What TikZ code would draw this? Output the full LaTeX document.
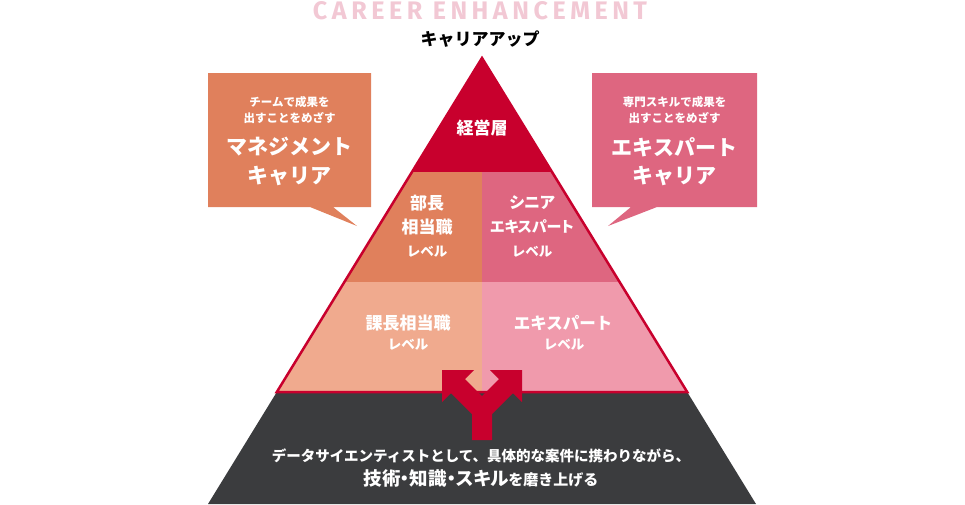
\documentclass[tikz,border=0pt]{standalone}
\usepackage{fontspec}
\newfontfamily\jp{Noto Sans CJK JP}
\newfontfamily\jpp{Noto Sans CJK JP}[RawFeature=+palt]
\newfontfamily\ttl{Fira Sans}[LetterSpace=18]
\newcommand\fsz[1]{\fontsize{#1}{#1}\selectfont}
\definecolor{cred}{HTML}{C8002D}
\definecolor{corange}{HTML}{E0805C}
\definecolor{cpink}{HTML}{DE6680}
\definecolor{clorange}{HTML}{F0AA8E}
\definecolor{clpink}{HTML}{F09AAC}
\definecolor{cdark}{HTML}{3B3C3E}
\definecolor{ctitle}{HTML}{F2C8D4}
\begin{document}
\begin{tikzpicture}[x=1pt,y=-1pt,
  wt/.style={text=white, inner sep=0pt, font=\jp\bfseries},
  bk/.style={text=black, inner sep=0pt, font=\jp\bfseries}]
\useasboundingbox (0,0) rectangle (965,504);
% coordinates
\coordinate (apex) at (482,58);
\coordinate (l1) at (411.96,172); \coordinate (r1) at (552.04,172); \coordinate (m1) at (482,172);
\coordinate (l2) at (344.4,282);  \coordinate (r2) at (619.6,282);  \coordinate (m2) at (482,282);
\coordinate (l3) at (276.8,392);  \coordinate (r3) at (687.2,392);  \coordinate (m3) at (482,392);
\coordinate (l4) at (208,504);    \coordinate (r4) at (756,504);
% title
\node (title) at (480,11) {\color{ctitle}\resizebox{334pt}{18pt}{\ttl\bfseries CAREER ENHANCEMENT}};
\node[bk] (sub) at (480,39) {\fsz{17}キャリアアップ};
% base
\fill[cdark] (l3) -- (r3) -- (r4) -- (l4) -- cycle;
% layers
\fill[cred] (apex) -- (l1) -- (r1) -- cycle;
\fill[corange] (l1) -- (m1) -- (m2) -- (l2) -- cycle;
\fill[cpink] (m1) -- (r1) -- (r2) -- (m2) -- cycle;
\fill[clorange] (l2) -- (m2) -- (m3) -- (l3) -- cycle;
\fill[clpink] (m2) -- (r2) -- (r3) -- (m3) -- cycle;
\draw[cred, line width=2.5pt] (apex) -- (l3) -- (r3) -- cycle;
% arrow
\fill[cred] (472,440) -- (472,414) -- (451,393) -- (442,402) -- (442,370) -- (474,370)
  -- (465,379) -- (482,396) -- (499,379) -- (490,370) -- (522,370) -- (522,402)
  -- (513,393) -- (492,414) -- (492,440) -- cycle;
% callouts
\fill[corange] (208,73) -- (371,73) -- (371,207) -- (333,207) -- (357,226) -- (310,207) -- (208,207) -- cycle;
\fill[cpink] (592,73) -- (757,73) -- (757,207) -- (657,207) -- (608,226) -- (631,207) -- (592,207) -- cycle;
\node[wt] (lc1) at (289.5,102) {\fsz{11.5}チームで成果を};
\node[wt] (lc2) at (289.5,118) {\fsz{11.5}出すことをめざす};
\node[wt] (lc3) at (289.5,147) {\fsz{21}マネジメント};
\node[wt] (lc4) at (289.5,176) {\fsz{21}キャリア};
\node[wt] (rc1) at (674.5,102) {\fsz{11.5}専門スキルで成果を};
\node[wt] (rc2) at (674.5,118) {\fsz{11.5}出すことをめざす};
\node[wt] (rc3) at (674.5,147) {\fsz{21}エキスパート};
\node[wt] (rc4) at (674.5,176) {\fsz{21}キャリア};
% pyramid labels
\node[wt] (top) at (482,128) {\fsz{17}経営層};
\node[wt] (ml1) at (427,203) {\fsz{17}部長};
\node[wt] (ml2) at (427,227) {\fsz{17}相当職};
\node[wt] (ml3) at (427,252) {\fsz{13.5}レベル};
\node[wt] (mr1) at (532,203) {\jpp\bfseries\fsz{16}シニア};
\node[wt] (mr2) at (532,227) {\jpp\bfseries\fsz{15}エキスパート};
\node[wt] (mr3) at (532,252) {\fsz{13.5}レベル};
\node[wt] (ll1) at (408,323) {\fsz{17}課長相当職};
\node[wt] (ll2) at (408,345) {\fsz{13.5}レベル};
\node[wt] (lr1) at (563,323) {\fsz{16.5}エキスパート};
\node[wt] (lr2) at (564,345) {\fsz{13.5}レベル};
% bottom text
\node[wt] (b1) at (481,456) {\fsz{14.5}データサイエンティストとして、具体的な案件に携わりながら、};
\node[wt] (b2) at (481,478) {{\jpp\bfseries\fsz{18.5}技術・知識・スキル}\fsz{15}を磨き上げる};
\end{tikzpicture}
\end{document}
